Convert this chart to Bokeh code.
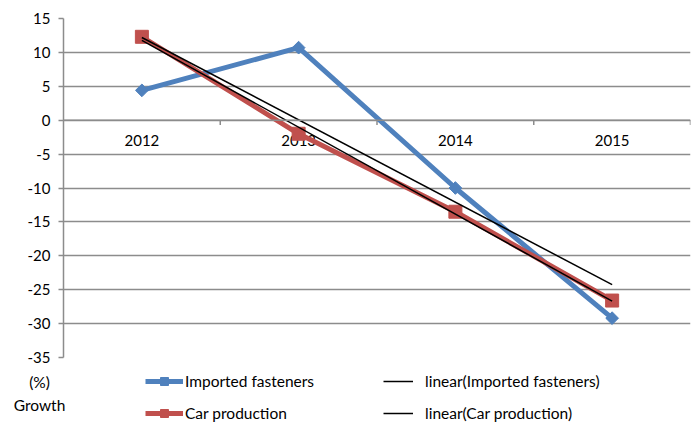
import numpy as np
from bokeh.plotting import figure
from bokeh.layouts import column
from bokeh.models import Range1d, FixedTicker, Legend, LegendItem, Span, Label
from bokeh.core.properties import value
from bokeh.embed import file_html
from bokeh.resources import INLINE

years = ["2012", "2013", "2014", "2015"]
fasteners = [4.4, 10.7, -10.0, -29.2]
car_production = [12.3, -2.0, -13.5, -26.6]
y_ticks = [-35, -30, -25, -20, -15, -10, -5, 0, 5, 10, 15]
names = ["Imported fasteners", "Car production"]
unit_lines = ["(%)", "Growth"]

FONT = "Lato"
BLUE = "#4F81BD"
RED = "#C0504D"
GRID = "#8c8c8c"

xs = np.arange(1, len(years) + 1)

p = figure(width=696, height=366, output_backend="svg", toolbar_location=None,
           x_range=Range1d(0.5, len(years) + 0.5), y_range=Range1d(-35, 15),
           x_axis_location=None, min_border_left=63, min_border_right=6,
           min_border_top=18, min_border_bottom=9)
p.outline_line_color = None
p.xgrid.visible = False
p.yaxis.ticker = FixedTicker(ticks=y_ticks)
p.yaxis.major_label_overrides = {t: str(t) for t in y_ticks}
p.ygrid.grid_line_color = GRID
p.ygrid.grid_line_width = 1.5
p.yaxis.axis_line_color = GRID
p.yaxis.axis_line_width = 1.5
p.yaxis.major_tick_line_color = GRID
p.yaxis.major_tick_line_width = 1.5
p.yaxis.major_tick_out = 5
p.yaxis.major_tick_in = 0
p.yaxis.minor_tick_line_color = None
p.yaxis.major_label_text_font = FONT
p.yaxis.major_label_text_font_size = "15px"
p.yaxis.major_label_text_color = "black"
p.yaxis.major_label_standoff = 8

# category axis at y = 0
p.add_layout(Span(location=0, dimension="width", line_color=GRID, line_width=1.5))
bounds = xs + 0.5
p.segment(x0=bounds, y0=[0] * len(bounds), x1=bounds, y1=[-0.7] * len(bounds),
          line_color=GRID, line_width=1.5)
p.text(x=xs, y=[0] * len(xs), text=years, text_align="center", text_baseline="middle",
       y_offset=20, text_font=value(FONT), text_font_size="15px", text_color="black")

def series(fig, x, y, color, marker, size, angle):
    ln = fig.line(x, y, line_color=color, line_width=5)
    mk = fig.scatter(x, y, marker=marker, angle=angle, size=size,
                     fill_color=color, line_color=color)
    return ln, mk

series(p, xs, fasteners, BLUE, "square", 9, np.pi / 4)
series(p, xs, car_production, RED, "square", 13, 0)

# linear trend lines
ends = [xs[0], xs[-1]]
for vals in (fasteners, car_production):
    c = np.polyfit(xs, vals, 1)
    p.line(ends, np.polyval(c, ends), line_color="black", line_width=1.5)

# legend strip below the chart
q = figure(width=696, height=57, output_backend="svg", toolbar_location=None,
           x_range=Range1d(0, 627), y_range=Range1d(0, 57),
           x_axis_location=None,
           min_border_left=63, min_border_right=6, min_border_top=0, min_border_bottom=0)
q.outline_line_color = None
q.xgrid.visible = False
q.ygrid.visible = False

free = "frame_align" in q.properties()
if free:
    q.frame_align = False
    q.min_border_left = 0
    q.min_border_right = 0
    q.x_range = Range1d(0, 696)
    q.yaxis.visible = False
    lx = 63
    q.add_layout(Label(x=39, y=42, text=unit_lines[0], text_align="center", text_baseline="middle",
                       text_font=FONT, text_font_size="15.5px", text_color="black"))
    q.add_layout(Label(x=39, y=19, text=unit_lines[1], text_align="center", text_baseline="middle",
                       text_font=FONT, text_font_size="15.5px", text_color="black"))
else:
    lx = 0
    q.yaxis.ticker = FixedTicker(ticks=[])
    q.yaxis.axis_line_color = None
    q.yaxis.major_tick_line_color = None
    q.yaxis.minor_tick_line_color = None
    q.yaxis.axis_label = "\n".join(unit_lines)
    q.yaxis.axis_label_orientation = "horizontal"
    q.yaxis.axis_label_text_align = "center"
    q.yaxis.axis_label_text_font = FONT
    q.yaxis.axis_label_text_font_style = "normal"
    q.yaxis.axis_label_text_font_size = "15px"
    q.yaxis.axis_label_text_color = "black"
    q.yaxis.axis_label_text_line_height = 1.15
    q.yaxis.axis_label_standoff = 0

off = [-1000, -999]
b1 = series(q, off, [0, 0], BLUE, "square", 9, np.pi / 4)
b2 = series(q, off, [0, 0], RED, "square", 13, 0)
k1 = q.line(off, [0, 0], line_color="black", line_width=1.5)
k2 = q.line(off, [0, 0], line_color="black", line_width=1.5)

def mk_legend(items, x, y, gw, standoff):
    return Legend(items=items, location=(x, y), orientation="vertical",
                  glyph_width=gw, glyph_height=20, label_standoff=standoff,
                  label_height=20,
                  label_text_font=FONT, label_text_font_size="15.5px", label_text_color="black",
                  spacing=12, padding=0, margin=0, border_line_alpha=0,
                  background_fill_alpha=0)

q.add_layout(mk_legend([LegendItem(label=names[0], renderers=list(b1)),
                        LegendItem(label=names[1], renderers=list(b2))], 82 + lx, 0, 38, 2))
q.add_layout(mk_legend([LegendItem(label="linear(" + names[0] + ")", renderers=[k1]),
                        LegendItem(label="linear(" + names[1] + ")", renderers=[k2])], 320 + lx, 0, 30, 12))

layout = column(p, q, spacing=0)
open("out.html", "w").write(file_html(layout, INLINE))
